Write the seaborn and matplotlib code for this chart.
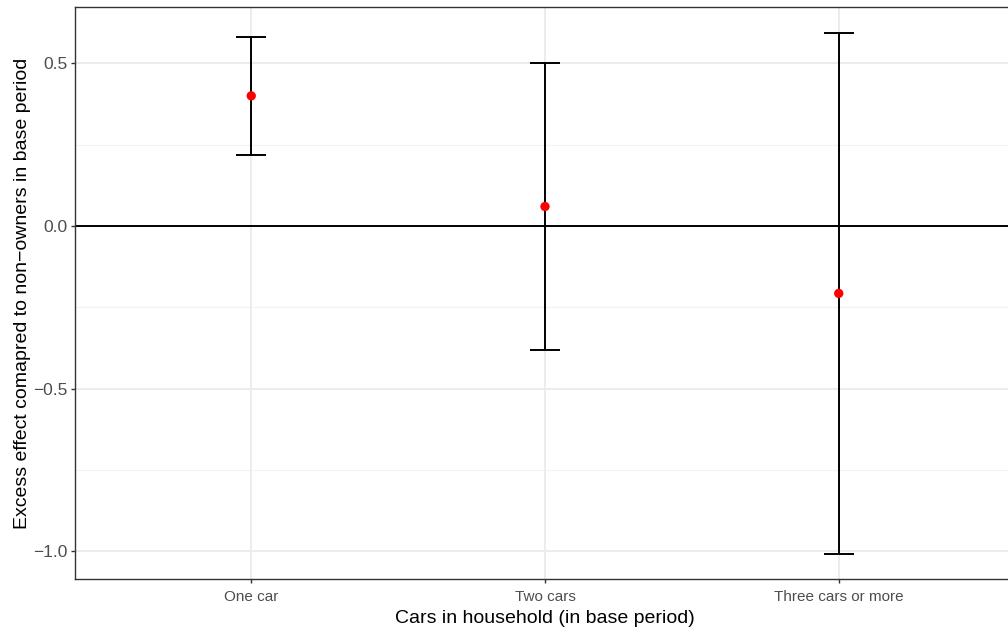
import matplotlib
matplotlib.use("Agg")
import matplotlib.pyplot as plt
import seaborn as sns
import pandas as pd
import numpy as np

categories = ["One car", "Two cars", "Three cars or more"]
estimates = [0.40, 0.06, -0.207]
lower = [0.217, -0.381, -1.008]
upper = [0.581, 0.502, 0.593]

sns.set_theme(style="white")
plt.rcParams['font.family'] = ['Liberation Sans', 'DejaVu Sans']

df = pd.DataFrame({"cat": categories, "est": estimates, "lo": lower, "hi": upper})

fig = plt.figure(figsize=(10.08, 6.29), dpi=100)
ax = fig.add_axes([75/1008, 50/629, 940/1008, 572/629])

x = np.arange(len(categories))
# grid
for yv in [-0.75, -0.25, 0.25]:
    ax.axhline(yv, color="#F2F2F2", lw=0.8, zorder=0)
for yv in [-1.0, -0.5, 0.5]:
    ax.axhline(yv, color="#EBEBEB", lw=1.3, zorder=0)
for xv in x:
    ax.axvline(xv, color="#EBEBEB", lw=1.3, zorder=0)

ax.axhline(0, color="black", lw=1.4, zorder=1)

est = np.array(estimates)
ax.errorbar(x, est, yerr=[est - np.array(lower), np.array(upper) - est],
            fmt="none", ecolor="black", elinewidth=1.4, capsize=10.5, capthick=1.4, zorder=2)
sns.scatterplot(data=df, x=x, y="est", color="red", s=45, edgecolor="none", ax=ax, zorder=3)

ax.set_xlim(-0.6, 2.6)
ax.set_ylim(-1.0845, 0.673)
ax.set_xticks(x)
ax.set_xticklabels(categories)
ax.set_yticks([-1.0, -0.5, 0.0, 0.5])
ax.set_yticklabels(["\u22121.0", "\u22120.5", "0.0", "0.5"])
ax.tick_params(axis="both", colors="#333333", labelcolor="#4D4D4D", length=3, width=1, direction="out",
               left=True, bottom=True)
ax.tick_params(axis="x", labelsize=11, pad=5)
ax.tick_params(axis="y", labelsize=12.5, pad=2.5)
for s in ax.spines.values():
    s.set_color("#333333")
    s.set_linewidth(1.0)
ax.set_xlabel("Cars in household (in base period)", fontsize=14, color="black", labelpad=4)
ax.set_ylabel("Excess effect comapred to non\u2212owners in base period", fontsize=14, color="black", labelpad=1.5)

fig.savefig("out.png", dpi=100)
